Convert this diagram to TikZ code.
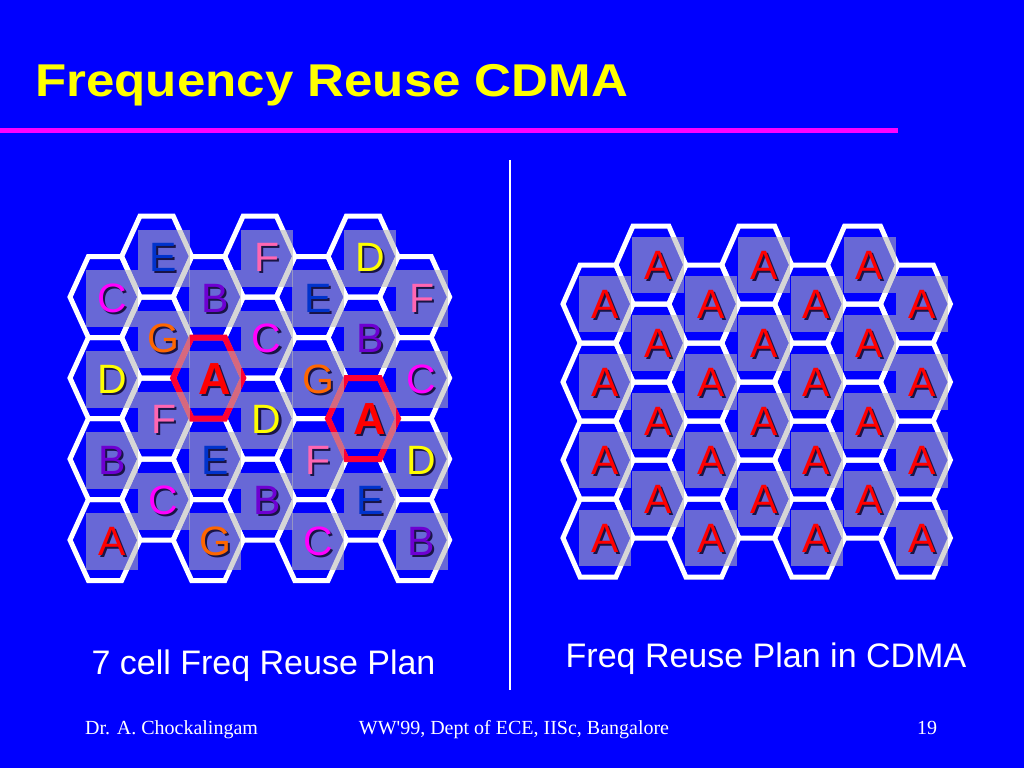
\documentclass[tikz,border=0pt]{standalone}
\usepackage{fontspec}
\setmainfont{Liberation Serif}
\setsansfont{Liberation Sans}
\usepackage{graphicx}
\usepackage{tikz}
\usetikzlibrary{positioning}

\definecolor{slideblue}{RGB}{0,0,255}
\definecolor{rulemag}{RGB}{255,0,255}
\definecolor{titleyel}{RGB}{255,255,0}
\definecolor{tintgray}{RGB}{184,184,184}
\definecolor{hexred}{RGB}{255,0,51}
\definecolor{shadowdark}{RGB}{25,20,70}
\definecolor{cellA}{RGB}{255,0,0}
\definecolor{cellB}{RGB}{110,0,210}
\definecolor{cellC}{RGB}{255,0,255}
\definecolor{cellD}{RGB}{255,255,0}
\definecolor{cellE}{RGB}{0,51,204}
\definecolor{cellF}{RGB}{255,102,178}
\definecolor{cellG}{RGB}{255,102,0}

% flat topped cell: centre x, centre y, half top edge, half height
\newcommand{\hexpath}[4]{({#1-35},#2) -- ({#1-#3},{#2-#4}) -- ({#1+#3},{#2-#4}) -- ({#1+35},#2) -- ({#1+#3},{#2+#4}) -- ({#1-#3},{#2+#4}) -- cycle}
\newcommand{\hlfont}{\bfseries\fontsize{45}{48}\selectfont}

\tikzset{
	cellline/.style={draw=white, line width=5pt},
	hexline/.style={draw=hexred, line width=6pt},
	tint/.style={fill=tintgray, fill opacity=0.57},
	cellletter/.style={inner sep=0pt, font=\sffamily\fontsize{41}{44}\selectfont},
	cellshadow/.style={cellletter, text=shadowdark},
	titletext/.style={inner sep=0pt, text=titleyel, font=\sffamily\bfseries\fontsize{46}{50}\selectfont},
	captiontext/.style={inner sep=0pt, text=white, font=\sffamily\fontsize{34}{38}\selectfont},
	foottext/.style={inner sep=0pt, text=white, font=\rmfamily\fontsize{20}{24}\selectfont}
}

\begin{document}
\begin{tikzpicture}[x=1pt, y=-1pt]

	\useasboundingbox (0,0) rectangle (1024,768);
	\fill[slideblue] (0,0) rectangle (1024,768);

	\node[titletext, anchor=base west] (title) at (35,96) {\scalebox{1.11}[1]{Frequency Reuse CDMA}};

	\coordinate (ruleL) at (0,130);
	\coordinate (ruleR) at (898,130);
	\draw[rulemag, line width=5pt] (ruleL) -- (ruleR);

	\coordinate (sepT) at (510,160);
	\coordinate (sepB) at (510,690);
	\draw[white, line width=1.5pt] (sepT) -- (sepB);

	% cell outlines of both plans
	\foreach \c in {1,...,7}{
		\foreach \r in {1,...,4}{
			\pgfmathsetmacro\lx{105+(\c-1)*51.6}
			\pgfmathsetmacro\ly{(mod(\c,2)==1 ? 297 : 256.5)+(\r-1)*81}
			\draw[cellline] \hexpath{\lx}{\ly}{16.6}{40.5};
			\pgfmathsetmacro\rx{598+(\c-1)*52.9}
			\pgfmathsetmacro\ry{(mod(\c,2)==1 ? 304 : 265)+(\r-1)*78}
			\draw[cellline] \hexpath{\rx}{\ry}{17.9}{39};
		}
	}

	\draw[hexline] \hexpath{208.2}{378}{16.6}{40.5};
	\draw[hexline] \hexpath{363}{418.5}{16.6}{40.5};

	% tinted squares
	\foreach \c in {1,...,7}{
		\foreach \r in {1,...,4}{
			\pgfmathsetmacro\lx{105+(\c-1)*51.6+7}
			\pgfmathsetmacro\ly{(mod(\c,2)==1 ? 297 : 256.5)+(\r-1)*81+1}
			\fill[tint] ({\lx-26},{\ly-28}) rectangle ++(52,57);
			\pgfmathsetmacro\rx{598+(\c-1)*52.9+7}
			\pgfmathsetmacro\ry{(mod(\c,2)==1 ? 304 : 265)+(\r-1)*78}
			\fill[tint] ({\rx-26},{\ry-28}) rectangle ++(52,56);
		}
	}

	% 7 cell plan letters
	\foreach \c/\letters in {1/{C,D,B,A},2/{E,G,F,C},3/{B,A,E,G},4/{F,C,D,B},5/{E,G,F,C},6/{D,B,A,E},7/{F,C,D,B}}{
		\foreach \l [count=\r] in \letters{
			\pgfmathsetmacro\lx{105+(\c-1)*51.6+7}
			\pgfmathsetmacro\ly{(mod(\c,2)==1 ? 297 : 256.5)+(\r-1)*81+1}
			\pgfmathtruncatemacro\hl{((\c==3 && \r==2) || (\c==6 && \r==3)) ? 1 : 0}
			\node[cellshadow] (LS\c-\r) at ({\lx+2},{\ly+2}) {\ifnum\hl=1 \hlfont\fi\l};
			\node[cellletter, text=cell\l] (L\c-\r) at (\lx,\ly) {\ifnum\hl=1 \hlfont\fi\l};
		}
	}

	% CDMA plan letters
	\foreach \c in {1,...,7}{
		\foreach \r in {1,...,4}{
			\pgfmathsetmacro\rx{598+(\c-1)*52.9+7}
			\pgfmathsetmacro\ry{(mod(\c,2)==1 ? 304 : 265)+(\r-1)*78}
			\node[cellshadow] (RS\c-\r) at ({\rx+2},{\ry+2}) {A};
			\node[cellletter, text=cellA] (R\c-\r) at (\rx,\ry) {A};
		}
	}

	\node[captiontext, anchor=base] (capL) at (263.5,674) {7 cell Freq Reuse Plan};

	\node[captiontext, anchor=base] (capR) at (766,667) {Freq Reuse Plan in CDMA};

	\node[foottext, anchor=base west] (footL) at (85,734) {Dr. A. Chockalingam};

	\node[foottext, anchor=base] (footM) at (514,734) {WW\textquotesingle 99, Dept of ECE, IISc, Bangalore};

	\node[foottext, anchor=base] (footR) at (927,734) {19};

\end{tikzpicture}
\end{document}
